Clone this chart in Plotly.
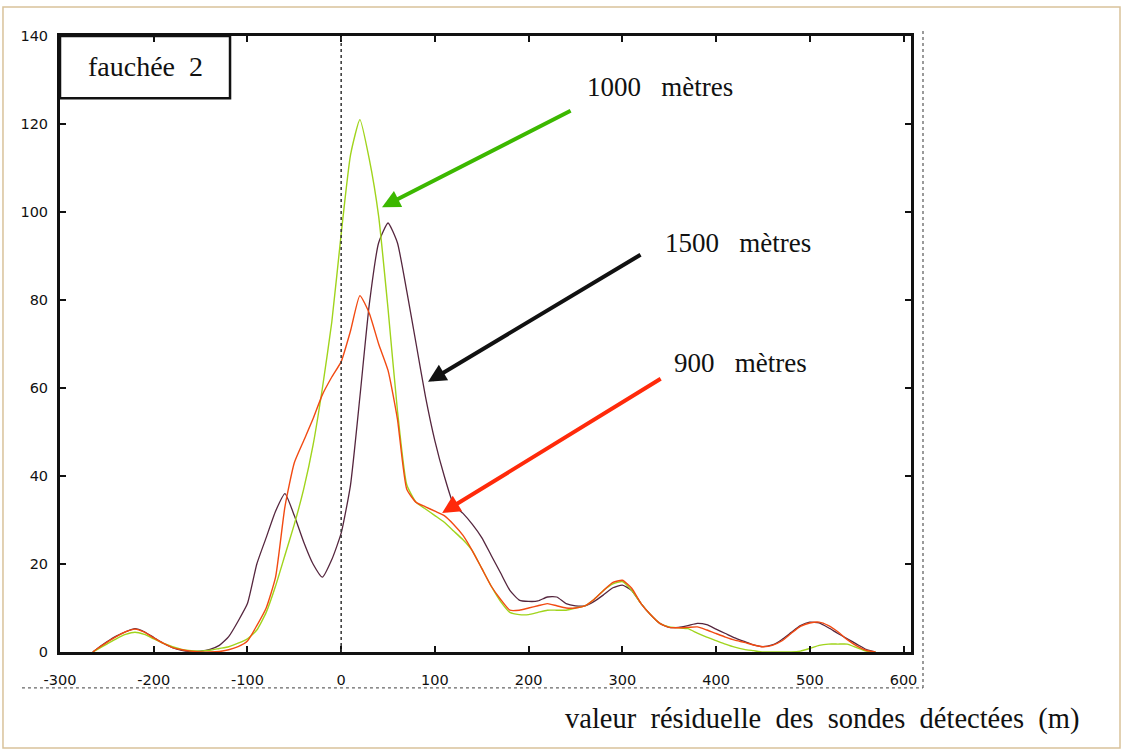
import plotly.graph_objects as go

# ---------------- data ----------------
x_vals = [-265, -260, -250, -240, -230, -220, -210, -200, -190, -180, -170, -160, -150, -140,
          -130, -120, -110, -100, -90, -80, -70, -60, -50, -40, -30, -20, -10, 0, 10, 20,
          30, 40, 50, 60, 70, 80, 90, 100, 110, 120, 130, 140, 150, 160, 170, 180, 190, 200,
          210, 220, 230, 240, 250, 260, 270, 280, 290, 300, 310, 320, 330, 340, 350, 360,
          370, 380, 390, 400, 410, 420, 430, 440, 450, 460, 470, 480, 490, 500, 510, 520,
          530, 540, 550, 560, 570]

y_1000 = [0, 0.6, 1.8, 3.0, 4.0, 4.5, 4.0, 3.0, 2.0, 1.2, 0.6, 0.3, 0.2, 0.4,
          0.8, 1.2, 2.0, 3.0, 5.0, 9.0, 15, 22, 29, 37, 47, 60, 75, 95, 113, 121,
          112, 99, 78, 55, 38, 34, 32.5, 31, 29.5, 27.5, 25.5, 23, 19, 15, 11.5, 9, 8.5, 8.5,
          9, 9.5, 9.5, 9.5, 10, 10.5, 12, 14, 15.5, 16, 14, 11, 8.5, 6.5, 5.7, 5.5,
          5.3, 4.3, 3.4, 2.6, 1.8, 1.1, 0.6, 0.3, 0, 0, 0, 0, 0.2, 0.8, 1.5, 1.8,
          1.8, 1.8, 1.0, 0.2, 0]

y_900 = [0, 0.8, 2.2, 3.5, 4.6, 5.2, 4.5, 3.2, 2.0, 1.0, 0.5, 0.2, 0, 0,
         0.1, 0.5, 1.2, 2.5, 6, 10, 17, 33, 43, 48, 53, 58.5, 62.5, 66, 73, 81,
         77, 70, 64, 53, 37, 34, 33, 32, 31, 29, 26.5, 23, 19, 15, 12, 9.5, 9.5, 10,
         10.5, 11, 10.5, 10, 10, 10.5, 12, 14, 15.8, 16.3, 14.5, 11, 8.5, 6.5, 5.6, 5.5,
         5.6, 5.7, 5.0, 4.2, 3.4, 2.7, 2.2, 1.6, 1.2, 1.5, 2.5, 4.2, 5.8, 6.6, 6.8, 6,
         4.6, 2.8, 1.4, 0.4, 0]

y_1500 = [0, 0.8, 2.3, 3.6, 4.6, 5.3, 4.6, 3.3, 2.0, 1.0, 0.4, 0.1, 0.2, 0.6,
          1.5, 3.5, 7, 11, 20, 26, 32, 36, 31, 25, 20, 17, 21, 27, 38, 58,
          79, 93, 97.5, 93, 82, 70, 58, 48, 40, 33.5, 31.5, 29, 26, 22, 18, 14, 11.8, 11.5,
          11.6, 12.5, 12.5, 11, 10.5, 10.5, 11.5, 13, 14.6, 15.2, 14, 11, 8.5, 6.5, 5.6, 5.6,
          6, 6.5, 6.2, 5.2, 4.2, 3.2, 2.4, 1.6, 1.2, 1.6, 2.8, 4.4, 6.0, 6.8, 6.6, 5.5,
          4.2, 3.0, 1.8, 0.6, 0]

x_ticks = [-300, -200, -100, 0, 100, 200, 300, 400, 500, 600]
y_ticks = [0, 20, 40, 60, 80, 100, 120, 140]

labels = ["1000\u00a0\u00a0\u00a0mètres", "1500\u00a0\u00a0\u00a0mètres", "900\u00a0\u00a0\u00a0mètres"]
label_x = [340, 423, 426]
label_y = [128.4, 93, 65.7]
arrow_tip_x = [43.6, 92.7, 107.7]
arrow_tip_y = [101.1, 61.4, 31.6]
arrow_tail_x = [246.4, 321, 342.5]
arrow_tail_y = [123.2, 90.5, 62.3]
arrow_colors = ["#3cb800", "#111111", "#ff2a0a"]

box_label = "fauchée\u00a0\u00a02"
x_title = "valeur\u00a0\u00a0résiduelle\u00a0\u00a0des\u00a0\u00a0sondes\u00a0\u00a0détectées\u00a0\u00a0(m)"

# ---------------- figure ----------------
fig = go.Figure()
fig.add_trace(go.Scatter(x=x_vals, y=y_1500, mode="lines",
                         line=dict(color="#55263e", width=1.3, shape="spline", smoothing=0.5),
                         name="1500"))
fig.add_trace(go.Scatter(x=x_vals, y=y_1000, mode="lines",
                         line=dict(color="#a0d41c", width=1.4, shape="spline", smoothing=0.5),
                         name="1000"))
fig.add_trace(go.Scatter(x=x_vals, y=y_900, mode="lines",
                         line=dict(color="#f24a12", width=1.4, shape="spline", smoothing=0.5),
                         name="900"))

serif = "Liberation Serif, Times New Roman, serif"

annotations = []
for t, lx, ly in zip(labels, label_x, label_y):
    annotations.append(dict(x=lx, y=ly, xref="x", yref="y", text=t, showarrow=False,
                            xanchor="center", yanchor="middle",
                            font=dict(family=serif, size=27, color="#111111")))
for hx, hy, tx, ty, c in zip(arrow_tip_x, arrow_tip_y, arrow_tail_x, arrow_tail_y, arrow_colors):
    annotations.append(dict(x=hx, y=hy, ax=tx, ay=ty, xref="x", yref="y", axref="x", ayref="y",
                            text="", showarrow=True, arrowhead=2, arrowsize=0.9,
                            arrowwidth=4, arrowcolor=c))
annotations.append(dict(x=0.0999, y=0.951, xref="paper", yref="paper", text=box_label,
                        xanchor="center", yanchor="middle",
                        showarrow=False, font=dict(family=serif, size=28, color="#111111")))
annotations.append(dict(x=1.2, y=-0.108, xref="paper", yref="paper", xanchor="right",
                        yanchor="middle", text=x_title,
                        showarrow=False, font=dict(family=serif, size=28.5, color="#111111")))

shapes = [
    # vertical dotted line at x = 0
    dict(type="line", xref="x", yref="paper", x0=0, x1=0, y0=0, y1=1,
         line=dict(color="#333333", width=1.5, dash="dot")),
    # legend box
    dict(type="rect", xref="paper", yref="paper", x0=0, x1=0.1998, y0=0.899, y1=1,
         line=dict(color="#111111", width=2.5), fillcolor="rgba(0,0,0,0)"),
    # horizontal dotted line under tick labels
    dict(type="line", xref="paper", yref="paper", x0=-0.0447, x1=1.0141, y0=-0.0584, y1=-0.0584,
         line=dict(color="#666666", width=1.3, dash="dot")),
    # vertical dotted line to the right
    dict(type="line", xref="paper", yref="paper", x0=1.0141, x1=1.0141, y0=-0.0584, y1=1.013,
         line=dict(color="#666666", width=1.3, dash="dot")),
    # outer border
    dict(type="rect", xref="paper", yref="paper", x0=-0.067, x1=1.2456, y0=-0.156, y1=1.047,
         line=dict(color="#d9c29a", width=1.5), fillcolor="rgba(0,0,0,0)"),
]

fig.update_layout(
    width=1123, height=751,
    margin=dict(l=60, r=212, t=36, b=99),
    paper_bgcolor="white", plot_bgcolor="white",
    showlegend=False,
    font=dict(family="DejaVu Sans, Verdana, sans-serif", size=12, color="#111111"),
    annotations=annotations,
    shapes=shapes,
)
fig.update_xaxes(range=[-300, 608], tickvals=x_ticks, ticktext=[str(v) for v in x_ticks],
                 showgrid=False, zeroline=False, showline=True, linecolor="#111111", linewidth=3,
                 mirror="ticks", ticks="inside", ticklen=6, tickwidth=2, tickcolor="#111111",
                 ticklabelstandoff=13, tickfont=dict(size=14.5, color="#111111"))
fig.update_yaxes(range=[0, 140], tickvals=y_ticks, ticktext=[str(v) for v in y_ticks],
                 showgrid=False, zeroline=False, showline=True, linecolor="#111111", linewidth=3,
                 mirror="ticks", ticks="inside", ticklen=6, tickwidth=2, tickcolor="#111111",
                 ticklabelstandoff=6, tickfont=dict(size=14.5, color="#111111"))

fig.write_html("out.html")
